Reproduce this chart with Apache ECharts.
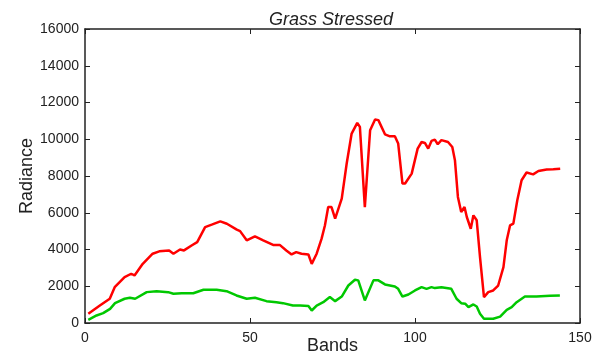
<!DOCTYPE html>
<html>
<head>
<meta charset="utf-8">
<script src="https://cdn.jsdelivr.net/npm/echarts@6/dist/echarts.min.js"></script>
<style>
  html, body { margin: 0; padding: 0; background: #fff; }
  #chart { width: 602px; height: 354px; }
</style>
</head>
<body>
<div id="chart"></div>
<script>
// values (band, radiance)
var redBands = [1, 4.5, 7.5, 9, 12, 14, 15, 17.5, 20.5, 22.5, 25.5, 26.8, 28.8, 30, 32.3, 34, 36.4, 38.4, 41, 43,
  46, 47, 49, 51.5, 54, 57, 59, 61, 62.6, 64, 65.6, 67.7, 68.7, 70.2, 71.7, 72.7, 73.7, 74.7, 75.8, 77.8,
  79.3, 80.8, 82.5, 83.3, 84.8, 86.4, 87.9, 88.9, 90.9, 92.4, 93.9, 94.9, 96.2, 97, 99, 100.8, 102, 103, 104, 105,
  106, 106.9, 108, 110, 111.3, 112.1, 113, 114, 115, 115.7, 116.9, 117.7, 118.7, 119.7, 120.9, 122.2, 123.7, 125.2, 126.8, 127.8,
  128.8, 129.8, 131, 132.3, 133.8, 135.8, 137.4, 139.9, 141.9, 144];
var redValues = [500, 950, 1320, 1950, 2500, 2680, 2590, 3220, 3770, 3900, 3950, 3770, 4000, 3950, 4220, 4400, 5220, 5350, 5530, 5400,
  5080, 5000, 4500, 4710, 4500, 4250, 4250, 3950, 3730, 3860, 3770, 3730, 3220, 3770, 4590, 5310, 6310, 6310, 5680, 6770,
  8680, 10310, 10890, 10670, 6310, 10490, 11070, 11040, 10270, 10160, 10160, 9770, 7590, 7590, 8130, 9490, 9850, 9800, 9490, 9910,
  9980, 9730, 9950, 9850, 9580, 8860, 6860, 6040, 6310, 5770, 5130, 5860, 5590, 3590, 1410, 1680, 1770, 2040, 3040, 4500,
  5310, 5410, 6680, 7770, 8190, 8090, 8270, 8350, 8370, 8400];

var greenBands = [1, 3.5, 5.5, 7.6, 9.1, 12, 13.6, 15.2, 18.7, 21.7, 25.2, 26.8, 29.3, 32.8, 35.9, 39.9, 42.9, 45.9, 49, 51.5,
  55, 58, 60, 63, 65.2, 67.7, 68.7, 70.2, 72.2, 74.2, 75.8, 77.8, 79.8, 81.8, 82.8, 84.8, 87.4, 88.9, 90.9, 93.9,
  94.9, 96.2, 98, 100, 102, 103.5, 105, 106, 108, 111, 112.6, 114, 115.2, 116.2, 117.7, 118.7, 119.7, 120.9, 123.7, 125.8,
  127.8, 129.3, 130.8, 133.3, 136.8, 140.9, 143.9];
var greenValues = [175, 410, 535, 770, 1080, 1320, 1370, 1320, 1680, 1730, 1680, 1590, 1620, 1620, 1810, 1810, 1730, 1500, 1320, 1370,
  1190, 1130, 1080, 950, 950, 920, 680, 950, 1130, 1410, 1190, 1440, 2040, 2350, 2320, 1230, 2320, 2320, 2100, 1990,
  1860, 1440, 1550, 1770, 1950, 1860, 1950, 1900, 1950, 1860, 1320, 1080, 1050, 860, 1010, 900, 500, 230, 230, 350,
  720, 860, 1130, 1440, 1440, 1480, 1500];

var xTicks = [0, 50, 100, 150];
var yTicks = [0, 2000, 4000, 6000, 8000, 10000, 12000, 14000, 16000];

function pairs(xs, ys) {
  return xs.map(function (x, i) { return [x, ys[i]]; });
}

var font = '"Liberation Sans", Arial, sans-serif';
var axisLine = { show: true, onZero: false, lineStyle: { color: '#222', width: 1.5 } };
var tick = { show: true, inside: true, length: 5, lineStyle: { color: '#222', width: 1 } };

var chart = echarts.init(document.getElementById('chart'));
chart.setOption({
  animation: false,
  title: {
    text: 'Grass Stressed',
    left: 264,
    top: 6,
    textStyle: { fontFamily: font, fontSize: 18, fontStyle: 'italic', fontWeight: 'normal', color: '#222' }
  },
  grid: { left: 85, right: 22, top: 29, bottom: 31, outerBoundsMode: 'none' },
  xAxis: [
    {
      type: 'value', min: xTicks[0], max: xTicks[xTicks.length - 1], interval: 50,
      name: 'Bands', nameLocation: 'middle', nameGap: 14, nameMoveOverlap: false,
      nameTextStyle: { fontFamily: font, fontSize: 18, color: '#222' },
      axisLine: axisLine, axisTick: tick, splitLine: { show: false },
      axisLabel: { fontFamily: font, fontSize: 14, color: '#222', margin: 8 }
    },
    {
      type: 'value', position: 'top', min: 0, max: 150, interval: 50,
      axisLine: axisLine, axisTick: tick, splitLine: { show: false },
      axisLabel: { show: false }
    }
  ],
  yAxis: [
    {
      type: 'value', min: yTicks[0], max: yTicks[yTicks.length - 1], interval: 2000,
      name: 'Radiance', nameLocation: 'middle', nameGap: 49, nameMoveOverlap: false,
      nameTextStyle: { fontFamily: font, fontSize: 18, color: '#222' },
      axisLine: axisLine, axisTick: tick, splitLine: { show: false },
      axisLabel: { fontFamily: font, fontSize: 14, color: '#222', margin: 6,
        formatter: function (v) { return String(v); } }
    },
    {
      type: 'value', position: 'right', min: 0, max: 16000, interval: 2000,
      axisLine: axisLine, axisTick: tick, splitLine: { show: false },
      axisLabel: { show: false }
    }
  ],
  series: [
    {
      type: 'line', data: pairs(redBands, redValues), showSymbol: false,
      lineStyle: { color: '#ff0000', width: 2.5 }, itemStyle: { color: '#ff0000' }
    },
    {
      type: 'line', data: pairs(greenBands, greenValues), showSymbol: false,
      lineStyle: { color: '#00c800', width: 2.5 }, itemStyle: { color: '#00c800' }
    }
  ]
});
</script>
</body>
</html>
